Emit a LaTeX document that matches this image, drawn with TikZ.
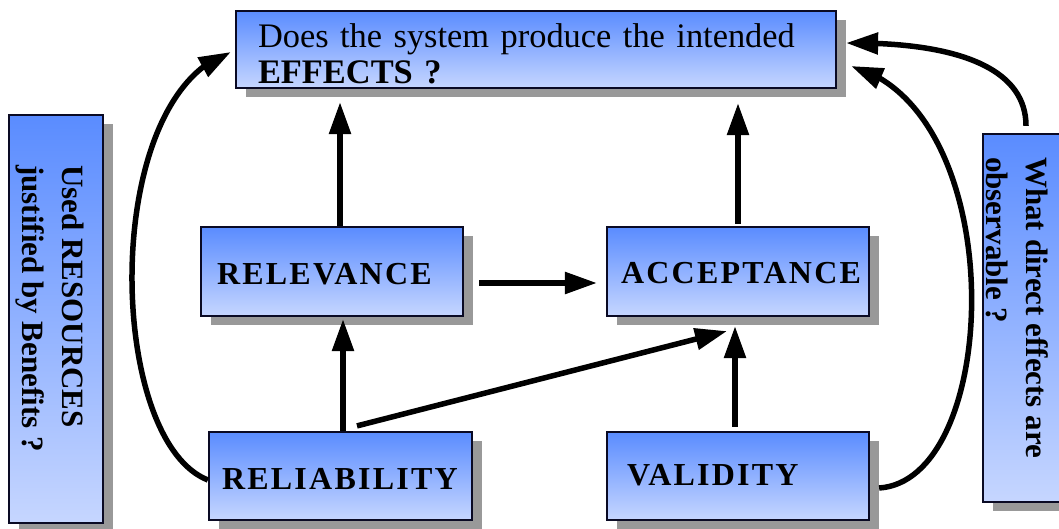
\documentclass[tikz,border=0pt]{standalone}
\usepackage{fontspec}
\setmainfont{Liberation Serif}
\newfontfamily\spacedserif{Liberation Serif}[LetterSpace=7]
\usetikzlibrary{arrows.meta,bending,shadows}

\definecolor{boxtop}{RGB}{90,140,255}
\definecolor{boxbottom}{RGB}{198,214,255}
\definecolor{boxline}{RGB}{10,10,36}
\definecolor{shadowgray}{RGB}{153,153,153}

\newcommand\labelfont{\spacedserif\bfseries\fontsize{32}{36}\selectfont\hyphenpenalty=10000 }
\newcommand\questionfont{\fontsize{34.4}{36}\selectfont}
\newcommand\sidefont{\bfseries\fontsize{31}{40}\selectfont}

\begin{document}
\begin{tikzpicture}[x=1pt,y=-1pt,
  box/.style={draw=boxline, line width=2.2pt,
    top color=boxtop, bottom color=boxbottom,
    drop shadow={shadow xshift=10pt, shadow yshift=-9pt,
      fill=shadowgray, opacity=1},
    inner ysep=0pt},
  labbox/.style={box, minimum height=89pt, align=left, font=\labelfont},
  sidetext/.style={rotate=-90, anchor=north west, inner sep=0pt,
    align=left, font=\sidefont},
  arr/.style={line width=5.5pt, -{Triangle[length=32pt,width=21pt]}}]

\useasboundingbox (0,0) rectangle (1059,529);
\clip (0,0) rectangle (1059,529);

% question box at the top
\node[box, minimum height=77pt, text width=556pt, inner xsep=22pt,
      align=left, font=\questionfont] (effects) at (536,49.5)
  {\rule{0pt}{32pt}Does the system produce the intended\\\textbf{EFFECTS ?}};

% the four criteria
\node[labbox, text width=230pt, inner xsep=16pt, text height=27pt]
  (relev) at (332,271.5) {RELEVANCE};
\node[labbox, text width=234pt, inner xsep=14pt, text height=24.5pt]
  (accept) at (738,271.5) {ACCEPTANCE};
\node[labbox, minimum height=88pt, text width=237pt, inner xsep=13pt,
      text height=28pt] (reliab) at (340.5,476) {RELIABILITY};
\node[labbox, minimum height=88pt, text width=222pt, inner xsep=20pt,
      text height=21pt, text depth=3pt] (valid) at (738,476) {VALIDITY};

% side questions
\node[box, minimum width=94pt, minimum height=408pt] (resources) at (56,319) {};
\node[sidetext] (resourcestext) at (84,165)
  {Used RESOURCES\\justified by Benefits ?};
\node[box, minimum width=92pt, minimum height=368pt] (observ) at (1029,318) {};
\node[sidetext] (observtext) at (1049,157)
  {What direct effects are\\observable ?};

% straight connectors
\draw[arr] ([xshift=8pt]relev.north) -- ([xshift=-196pt,yshift=-13pt]effects.south);
\draw[arr] ([yshift=2pt]accept.north) -- ([xshift=202pt,yshift=-14pt]effects.south);
\draw[arr] ([xshift=15pt,yshift=-11.5pt]relev.east) -- ([xshift=-9pt,yshift=-11.5pt]accept.west);
\draw[arr] ([xshift=2.5pt]reliab.north) -- ([xshift=11pt,yshift=-2pt]relev.south);
\draw[arr] ([xshift=-3pt,yshift=4pt]valid.north) -- ([xshift=-3pt,yshift=-9pt]accept.south);
\draw[arr] ([xshift=16.5pt,yshift=5pt]reliab.north) -- ([xshift=-11pt,yshift=-14pt]accept.south);

% curved connectors
\draw[arr] ([yshift=-4pt]reliab.west)
  .. controls (106,440) and (100,95) .. ([xshift=-4pt,yshift=-2.5pt]effects.west);
\draw[arr] ([xshift=9pt,yshift=-12pt]valid.east)
  .. controls (1002,480) and (1012,110) .. ([xshift=14pt,yshift=-16.5pt]effects.east);
\draw[arr] ([xshift=-3pt,yshift=7pt]observ.north)
  .. controls (1026,65) and (950,42) .. ([xshift=9pt,yshift=6.5pt]effects.east);
\end{tikzpicture}
\end{document}
